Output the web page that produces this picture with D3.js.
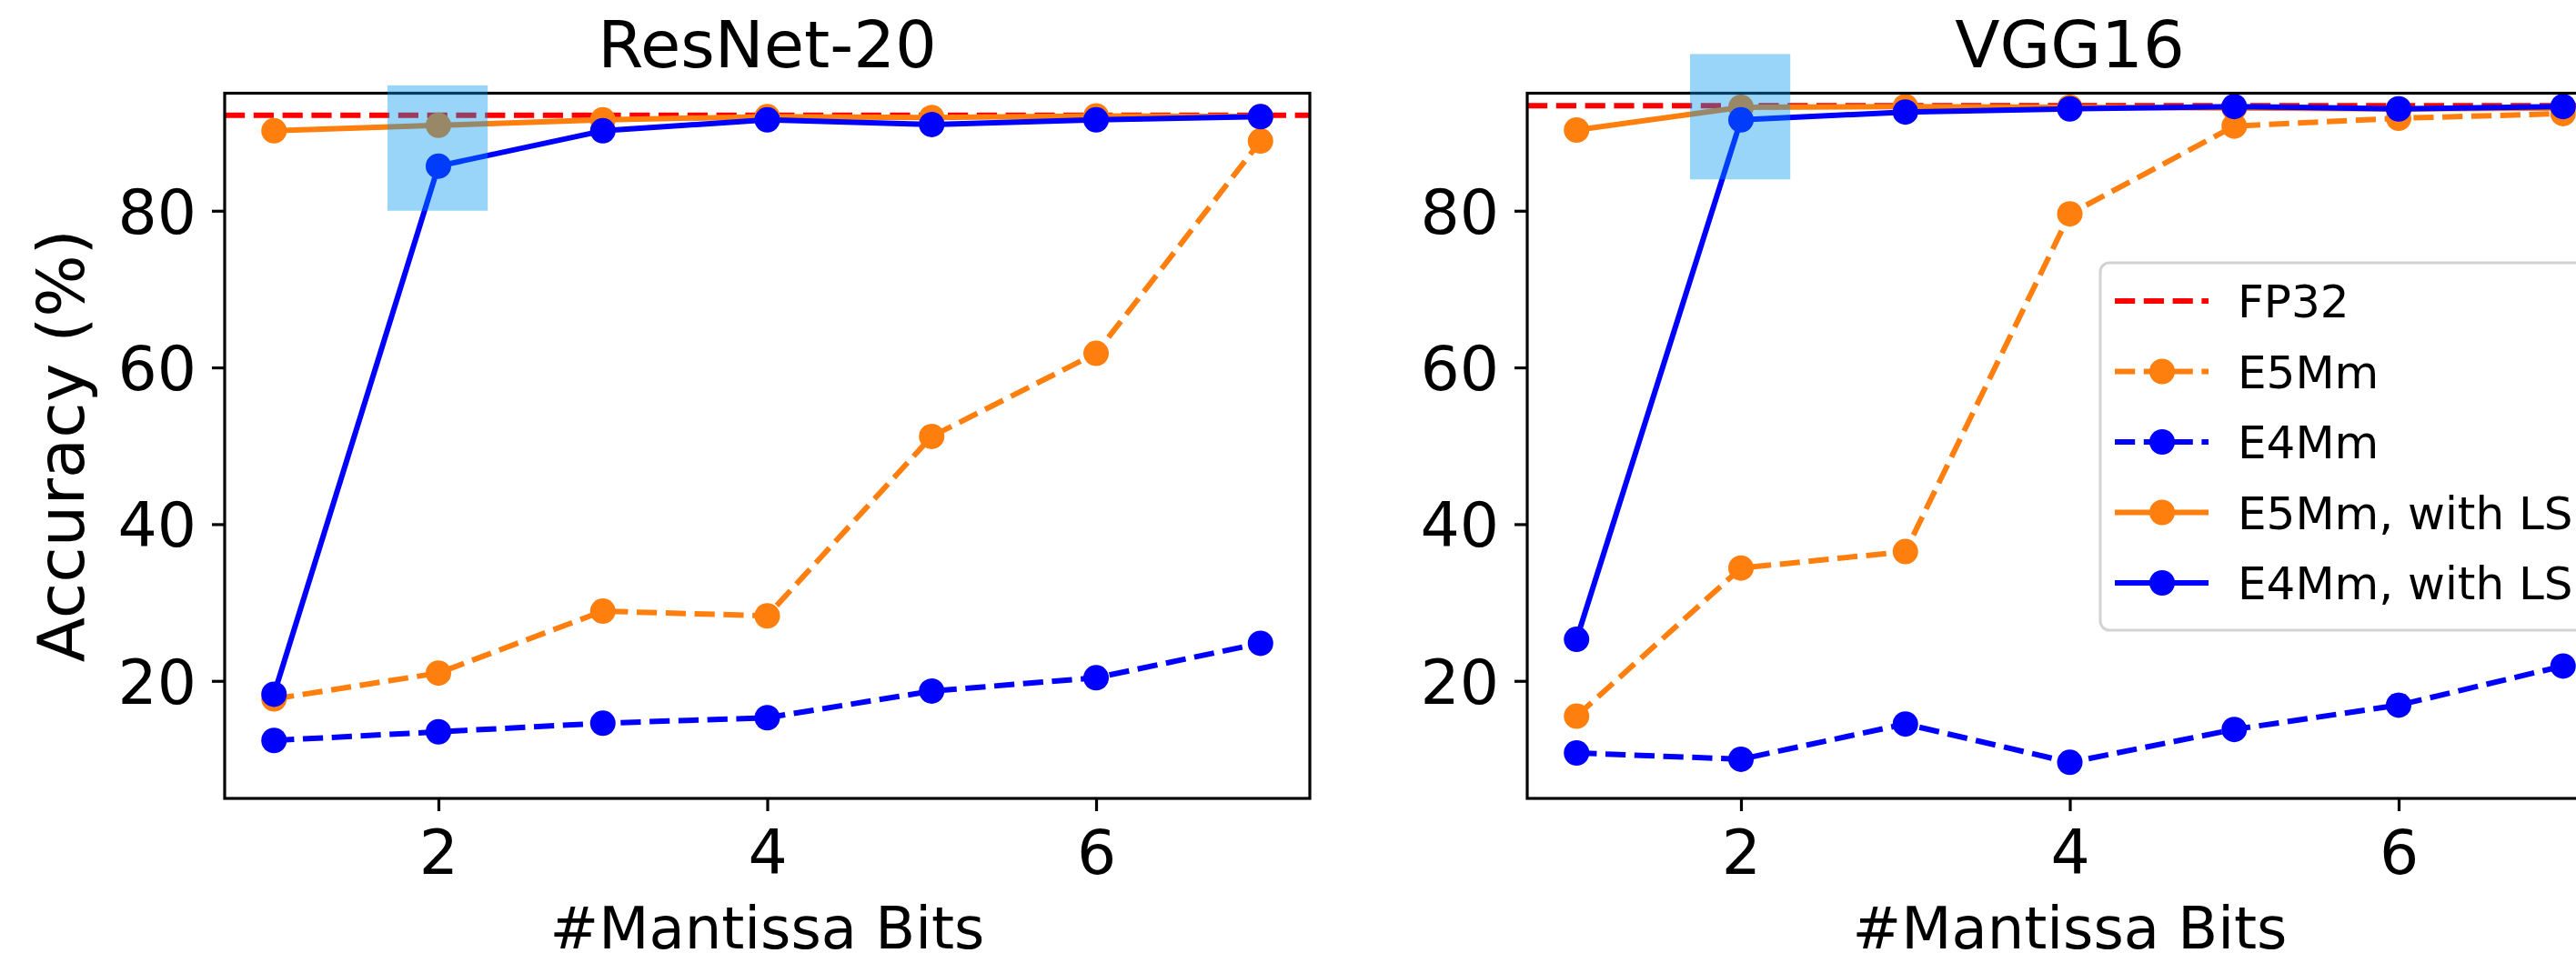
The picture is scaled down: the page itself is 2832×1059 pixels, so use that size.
<!DOCTYPE html>
<html>
<head>
<meta charset="utf-8">
<script src="https://cdn.jsdelivr.net/npm/d3@7"></script>
<style>
  body { margin: 0; background: #fff; }
  svg { display: block; }
</style>
</head>
<body>
<svg id="chart"></svg>
<script>
// values
const bits = [1, 2, 3, 4, 5, 6, 7];
const xTicks = [2, 4, 6];
const yTicks = [20, 40, 60, 80];
const titles = ["ResNet-20", "VGG16"];
const fp32 = [92.2, 93.4];

const resnetE5 = [17.7, 21.0, 28.9, 28.3, 51.2, 61.8, 88.9];
const resnetE4 = [12.4, 13.5, 14.6, 15.3, 18.7, 20.4, 24.8];
const resnetE5LS = [90.2, 90.9, 91.6, 92.0, 91.9, 92.1, 92.0];
const resnetE4LS = [18.3, 85.7, 90.2, 91.6, 91.0, 91.6, 92.0];

const vggE5 = [15.5, 34.4, 36.5, 79.6, 90.8, 91.8, 92.4];
const vggE4 = [10.8, 10.0, 14.5, 9.6, 13.8, 16.9, 21.9];
const vggE5LS = [90.3, 93.2, 93.3, 93.2, 93.1, 93.0, 93.1];
const vggE4LS = [25.3, 91.6, 92.6, 93.0, 93.3, 93.0, 93.3];

const seriesNames = ["E5Mm", "E4Mm", "E5Mm, with LS", "E4Mm, with LS"];
const highlightX = [1.69, 2.30];
const highlightY = [[80, 96], [84, 100]];

const W = 2832, H = 1059;
const axTop = 102.5, axBottom = 878, axW = 1193;
const panelLeft = [247, 1679];
const orange = "#ff7f0e", blue = "#0000ff";
const dash = "22.2 9.6";
const font = "DejaVu Sans, sans-serif";

const styles = [
    { color: orange, dashed: true },
    { color: blue, dashed: true },
    { color: orange, dashed: false },
    { color: blue, dashed: false }
];

const panels = [
    { title: titles[0], fp32: fp32[0], data: [resnetE5, resnetE4, resnetE5LS, resnetE4LS], hy: highlightY[0] },
    { title: titles[1], fp32: fp32[1], data: [vggE5, vggE4, vggE5LS, vggE4LS], hy: highlightY[1] }
];

const svg = d3.select("#chart").attr("width", W).attr("height", H);
const defs = svg.append("defs");

panels.forEach((p, i) => {
    const left = panelLeft[i];
    const x = d3.scaleLinear().domain([0.7, 7.3]).range([left, left + axW]);
    const y = d3.scaleLinear().domain([5, 95]).range([axBottom, axTop]);
    const g = svg.append("g");

    defs.append("clipPath").attr("id", "clip" + i)
        .append("rect")
        .attr("x", left).attr("y", axTop)
        .attr("width", axW).attr("height", axBottom - axTop);

    const plot = g.append("g").attr("clip-path", `url(#clip${i})`);

    // FP32 reference line
    plot.append("line")
        .attr("x1", x(0.7)).attr("x2", x(7.3))
        .attr("y1", y(p.fp32)).attr("y2", y(p.fp32))
        .attr("stroke", "#ff0000")
        .attr("stroke-width", 6)
        .attr("stroke-dasharray", dash);

    const line = d3.line().x((d, j) => x(bits[j])).y(d => y(d));

    p.data.forEach((values, k) => {
        const s = styles[k];
        plot.append("path")
            .datum(values)
            .attr("d", line)
            .attr("fill", "none")
            .attr("stroke", s.color)
            .attr("stroke-width", 6)
            .attr("stroke-linejoin", "round")
            .attr("stroke-dasharray", s.dashed ? dash : null);
        plot.append("g")
            .selectAll("circle")
            .data(values)
            .join("circle")
            .attr("cx", (d, j) => x(bits[j]))
            .attr("cy", d => y(d))
            .attr("r", 14)
            .attr("fill", s.color);
    });

    // axes
    const xAxis = g.append("g")
        .attr("transform", `translate(0,${axBottom})`)
        .call(d3.axisBottom(x).tickValues(xTicks).tickSize(14).tickSizeOuter(0).tickFormat(d3.format("d")));
    xAxis.select(".domain").remove();
    xAxis.selectAll(".tick line").attr("stroke", "#000").attr("stroke-width", 3.2);
    xAxis.selectAll(".tick text")
        .attr("y", 83).attr("dy", 0)
        .attr("font-family", font).attr("font-size", 68).attr("fill", "#000");

    const yAxis = g.append("g")
        .attr("transform", `translate(${left},0)`)
        .call(d3.axisLeft(y).tickValues(yTicks).tickSize(14).tickPadding(17).tickSizeOuter(0));
    yAxis.select(".domain").remove();
    yAxis.selectAll(".tick line").attr("stroke", "#000").attr("stroke-width", 3.2);
    yAxis.selectAll(".tick text")
        .attr("dy", "0.36em")
        .attr("font-family", font).attr("font-size", 68).attr("fill", "#000");

    g.append("rect")
        .attr("x", left).attr("y", axTop)
        .attr("width", axW).attr("height", axBottom - axTop)
        .attr("fill", "none")
        .attr("stroke", "#000")
        .attr("stroke-width", 3.2);

    // highlighted region
    g.append("rect")
        .attr("x", x(highlightX[0]))
        .attr("width", x(highlightX[1]) - x(highlightX[0]))
        .attr("y", y(p.hy[1]))
        .attr("height", y(p.hy[0]) - y(p.hy[1]))
        .attr("fill", "rgb(0,150,240)")
        .attr("fill-opacity", 0.4);

    g.append("text")
        .attr("x", left + axW / 2).attr("y", 74)
        .attr("text-anchor", "middle")
        .attr("font-family", font).attr("font-size", 72)
        .text(p.title);

    g.append("text")
        .attr("x", left + axW / 2).attr("y", 1043)
        .attr("text-anchor", "middle")
        .attr("font-family", font).attr("font-size", 64)
        .text("#Mantissa Bits");
});

// y label (shared)
svg.append("text")
    .attr("transform", `translate(92,${(axTop + axBottom) / 2}) rotate(-90)`)
    .attr("text-anchor", "middle")
    .attr("font-family", font).attr("font-size", 72)
    .text("Accuracy (%)");

// legend on the VGG16 panel
const lg = svg.append("g");
lg.append("rect")
    .attr("x", 2309).attr("y", 289)
    .attr("width", 620).attr("height", 404)
    .attr("rx", 10)
    .attr("fill", "#fff").attr("fill-opacity", 0.8)
    .attr("stroke", "#d3d3d3").attr("stroke-width", 3);

const legendItems = [{ name: "FP32", color: "#ff0000", dashed: true, marker: false }]
    .concat(seriesNames.map((n, k) => ({ name: n, color: styles[k].color, dashed: styles[k].dashed, marker: true })));

legendItems.forEach((d, k) => {
    const cy = 331 + k * 77.5;
    lg.append("line")
        .attr("x1", 2325).attr("x2", 2428)
        .attr("y1", cy).attr("y2", cy)
        .attr("stroke", d.color).attr("stroke-width", 6)
        .attr("stroke-dasharray", d.dashed ? dash : null);
    if (d.marker) {
        lg.append("circle").attr("cx", 2377).attr("cy", cy).attr("r", 14).attr("fill", d.color);
    }
    lg.append("text")
        .attr("x", 2460).attr("y", cy + 18)
        .attr("font-family", font).attr("font-size", 50)
        .text(d.name);
});
</script>
</body>
</html>
